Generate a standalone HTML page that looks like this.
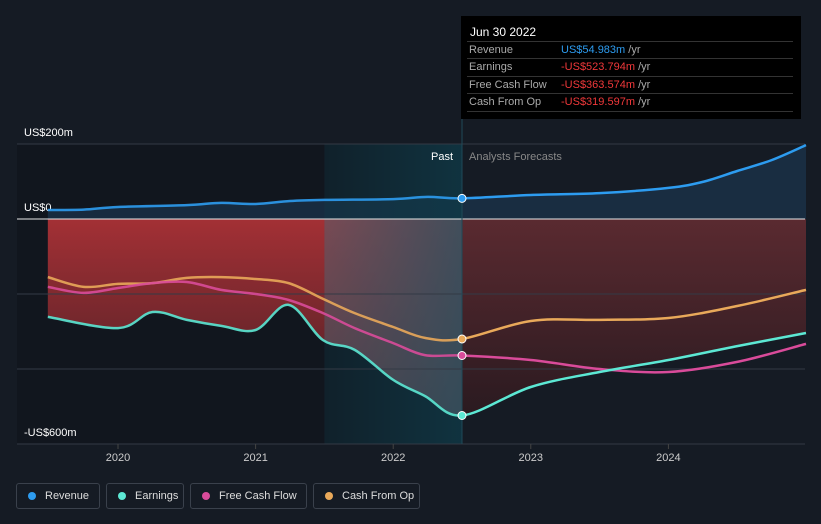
<!DOCTYPE html>
<html><head><meta charset="utf-8"><style>
html,body{margin:0;background:#151b24;width:821px;height:524px;overflow:hidden;font-family:"Liberation Sans",sans-serif}
svg{position:absolute;left:0;top:0}
.tip{position:absolute;left:461px;top:16px;width:340px;height:103px;background:#000;color:#fff;font-size:11px}
.tip .h{position:absolute;left:9px;top:9px;font-size:12px}
.row{position:absolute;left:6px;width:326px;height:17px;border-top:1px solid #333;line-height:17px;white-space:nowrap}
.row span.l{position:absolute;left:2px;color:#aaa}
.row span.v{position:absolute;left:94px}
.legend{position:absolute;top:483px;height:26px;border:1px solid #3a414c;border-radius:3px;color:#ddd;font-size:11px;line-height:24px;box-sizing:border-box;white-space:nowrap}
.legend i{position:absolute;left:11px;top:8px;width:8px;height:8px;border-radius:50%}
.legend span{position:absolute;left:28px}
</style></head><body>
<svg id="c" width="821" height="524"></svg>
<div class="tip">
<div class="h">Jun 30 2022</div>
<div class="row" style="top:25px"><span class="l">Revenue</span><span class="v"><b style="font-weight:normal;color:#2d9cf0">US$54.983m</b> <span style="color:#aaa">/yr</span></span></div>
<div class="row" style="top:42px"><span class="l">Earnings</span><span class="v"><b style="font-weight:normal;color:#f0383a">-US$523.794m</b> <span style="color:#aaa">/yr</span></span></div>
<div class="row" style="top:60px"><span class="l">Free Cash Flow</span><span class="v"><b style="font-weight:normal;color:#f0383a">-US$363.574m</b> <span style="color:#aaa">/yr</span></span></div>
<div class="row" style="top:77px;border-bottom:1px solid #333"><span class="l">Cash From Op</span><span class="v"><b style="font-weight:normal;color:#f0383a">-US$319.597m</b> <span style="color:#aaa">/yr</span></span></div>
</div>
<div class="legend" style="left:16px;width:84px"><i style="background:#2d9cf0"></i><span>Revenue</span></div>
<div class="legend" style="left:106px;width:78px"><i style="background:#5ce8d4"></i><span>Earnings</span></div>
<div class="legend" style="left:190px;width:117px"><i style="background:#d94b9a"></i><span>Free Cash Flow</span></div>
<div class="legend" style="left:313px;width:107px"><i style="background:#e9a95a"></i><span>Cash From Op</span></div>
<script>
const revT=[2019.49,2019.75,2020,2020.5,2020.75,2021,2021.25,2021.5,2022,2022.25,2022.5,2023,2023.5,2024,2024.25,2024.5,2024.75,2025];
const revV=[24,25,32,37,43,40,48,51,53,59,55,64,69,83,99,128,157,197];
const earnT=[2019.49,2020,2020.25,2020.5,2020.75,2021,2021.24,2021.49,2021.72,2022,2022.23,2022.5,2023,2023.5,2024,2024.5,2025];
const earnV=[-261,-291,-248,-269,-285,-296,-229,-323,-349,-429,-472,-524,-448,-408,-376,-339,-304];
const fcfT=[2019.49,2019.75,2020,2020.25,2020.5,2020.75,2021,2021.24,2021.49,2021.72,2022,2022.23,2022.5,2023,2023.5,2024,2024.5,2025];
const fcfV=[-181,-197,-184,-171,-168,-189,-200,-216,-251,-291,-331,-363,-364,-376,-400,-408,-381,-333];
const cfoT=fcfT;
const cfoV=[-155,-181,-173,-171,-157,-155,-160,-171,-213,-251,-288,-317,-320,-272,-269,-264,-232,-189];
const yTicks=[200,0,-600];const yLabels=["US$200m","US$0","-US$600m"];
const xTicks=[2020,2021,2022,2023,2024];
const X=t=>118+(t-2020)*137.6, Y=v=>219-v*0.375;
const NS="http://www.w3.org/2000/svg", s=document.getElementById('c');
function el(tag,a,p){const e=document.createElementNS(NS,tag);for(const k in a)e.setAttribute(k,a[k]);(p||s).appendChild(e);return e;}
function path(T,V){const p=T.map((t,i)=>[X(t),Y(V[i])]);let d=`M${p[0][0]},${p[0][1]}`;
for(let i=0;i<p.length-1;i++){const a=p[i-1]||p[i],b=p[i],c=p[i+1],e=p[i+2]||c;
d+=`C${b[0]+(c[0]-a[0])/6},${b[1]+(c[1]-a[1])/6} ${c[0]-(e[0]-b[0])/6},${c[1]-(e[1]-b[1])/6} ${c[0]},${c[1]}`;}return d;}
const eP=path(earnT,earnV);
const eFill=eP+`L${X(2025)},${Y(0)}L${X(2019.49)},${Y(0)}Z`;
const defs=el('defs',{});
defs.innerHTML=`<linearGradient id="rg" x1="0" y1="0" x2="0" y2="1"><stop offset="0" stop-color="#a33035"/><stop offset="1" stop-color="#4a1f25"/></linearGradient>
<linearGradient id="fg" x1="0" y1="0" x2="0" y2="1"><stop offset="0" stop-color="#5a2a30"/><stop offset="1" stop-color="#2a1a20"/></linearGradient>
<linearGradient id="sh" x1="0" y1="0" x2="1" y2="0"><stop offset="0" stop-color="#0f3a48" stop-opacity="0.3"/><stop offset="1" stop-color="#0f3a48" stop-opacity="0.8"/></linearGradient>
<clipPath id="past"><rect x="0" y="0" width="${X(2022.5)}" height="524"/></clipPath>
<clipPath id="fut"><rect x="${X(2022.5)}" y="0" width="400" height="524"/></clipPath>
<clipPath id="ef"><path d="${eFill}"/></clipPath>`;
el('rect',{x:17,y:144,width:X(2022.5)-17,height:300,fill:'#11161e',});
el('path',{d:eFill,fill:'url(#rg)','clip-path':'url(#past)',});
el('path',{d:eFill,fill:'url(#fg)','clip-path':'url(#fut)',});
el('path',{d:path(revT,revV)+`L${X(2025)},${Y(0)}L${X(2019.49)},${Y(0)}Z`,fill:'#1d3a55',opacity:0.6,});
el('rect',{x:X(2021.5),y:144,width:X(2022.5)-X(2021.5),height:300,fill:'url(#sh)',});
const g2=el('g',{'clip-path':'url(#ef)'});
el('rect',{x:X(2021.5),y:219,width:X(2022.5)-X(2021.5),height:220,fill:'#8090a0',opacity:0.25,},g2);
[200,-200,-400,-600].forEach(v=>{const g=el('line',{x1:17,x2:805,y1:Y(v),y2:Y(v),stroke:'#333a45'});});
el('line',{x1:17,x2:805,y1:Y(0),y2:Y(0),stroke:'#e8e8e8',});
el('line',{x1:X(2022.5),x2:X(2022.5),y1:16,y2:444,stroke:'#1f4a58',});
yTicks.forEach((v,i)=>{const t=el('text',{x:24,y:Y(v)-8,fill:'#fff','font-size':11});t.textContent=yLabels[i];});
xTicks.forEach(v=>{el('line',{x1:X(v),x2:X(v),y1:444,y2:449,stroke:'#444'});const t=el('text',{x:X(v),y:461,fill:'#ccc','font-size':11,'text-anchor':'middle'});t.textContent=v;});
const p1=el('text',{x:453,y:160,fill:'#fff','font-size':11,'text-anchor':'end',});p1.textContent='Past';
const p2=el('text',{x:469,y:160,fill:'#888','font-size':11,});p2.textContent='Analysts Forecasts';
const series=[[revT,revV,'#2d9cf0','revenue-line'],[cfoT,cfoV,'#e9a95a','cfo-line'],[fcfT,fcfV,'#d94b9a','fcf-line'],[earnT,earnV,'#5ce8d4','earnings-line']];
series.forEach(([T,V,c,n])=>{
el('path',{d:path(T,V),fill:'none',stroke:c,'stroke-width':2.5,'stroke-opacity':0.9,'clip-path':'url(#past)',});
el('path',{d:path(T,V),fill:'none',stroke:c,'stroke-width':2.5,'clip-path':'url(#fut)',});
const i=T.indexOf(2022.5);const d=el('circle',{cx:X(2022.5),cy:Y(V[i]),r:4,fill:c,stroke:'#fff','stroke-width':1});
});
</script>
</body></html>
